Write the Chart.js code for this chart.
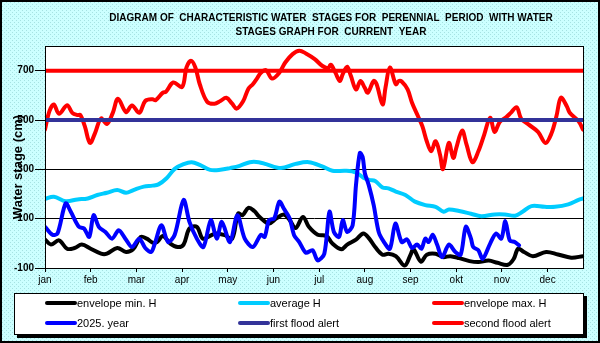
<!DOCTYPE html>
<html>
<head>
<meta charset="UTF-8">
<title>Water stages</title>
<script src="https://cdn.jsdelivr.net/npm/chart.js"></script>
<style>
    html, body { margin: 0; padding: 0; background: #ccffff; }
    #wrap { width: 600px; height: 343px; }
</style>
</head>
<body>
<div id="wrap"><canvas id="stagesChart" width="600" height="343"></canvas></div>

<script>
    // month labels sit every 31 days, like the original sheet
    var monthLabels = ['jan', 'feb', 'mar', 'apr', 'may', 'jun', 'jul', 'aug', 'sep', 'okt', 'nov', 'dec'];
    var monthDays = [0, 31, 62, 93, 124, 155, 186, 217, 248, 279, 310, 341];
    var yTicks = [-100, 100, 300, 500, 700];

    var minDays = [0, 4, 9.5, 15, 20, 25, 31, 38, 42, 49, 55, 60, 65, 69, 73, 76, 80, 85, 90, 94, 98, 103, 107, 112, 116, 122, 127, 131, 134, 138, 142, 145, 148, 152, 157, 162, 166, 170, 175, 179, 185, 191, 195, 201, 205, 211, 216, 220, 224, 229, 233, 238, 244, 248, 250, 255, 259, 265, 270, 275, 281, 288, 294, 301, 307, 314, 318, 321, 325, 331, 340, 348, 357, 365];
    var minVals = [16, -5, 12, -22, -19, -5, -22, -42, -42, -19, -35, -22, 26, 19, 3, 5, 30, -1, -15, -5, 60, 67, 19, 30, 40, 33, 19, 121, 114, 144, 131, 110, 94, 80, 101, 117, 94, 62, 107, 67, 35, 30, -1, -24, -5, 15, 40, 19, -15, -46, -42, -52, -90, -46, -24, -74, -46, -42, -56, -52, -60, -72, -76, -70, -79, -87, -63, -22, -35, -52, -35, -45, -58, -52];

    var avgDays = [0, 6, 14, 22, 29, 35.5, 42, 49, 55, 60, 67, 73, 77, 82.5, 88, 94, 99.5, 105, 112, 119, 125.5, 132, 139, 145, 150, 160, 170, 179, 188, 195, 204, 211, 216, 220, 224, 229, 233, 238, 244.5, 251, 258, 265, 270.5, 274, 281, 289, 296, 305, 312, 319, 324, 330, 339, 346, 355, 362, 365];
    var avgVals = [180, 189, 171, 178, 182, 196, 205, 216, 205, 216, 230, 234, 239, 264, 302, 321, 329, 318, 298, 298, 305, 314, 329, 329, 321, 305, 322, 329, 312, 294, 294, 287, 266, 257, 253, 226, 223, 210, 196, 169, 155, 148, 128, 137, 131, 120, 110, 117, 117, 112, 128, 151, 148, 148, 158, 176, 182];

    var maxDays = [0, 3, 6, 9.5, 15, 18.5, 22, 24, 27, 30.5, 34, 38, 42, 46, 49.5, 55, 59, 64, 68, 73, 75, 80, 82, 87, 93, 96, 99, 102, 105, 110, 115, 119, 123, 127, 130, 134.5, 138, 141, 144, 146.5, 150, 154, 159, 163, 168, 172.5, 177, 183, 188, 192, 194, 197, 200, 202, 205, 207.5, 211, 214, 217, 219, 223, 225, 229, 231, 234, 238, 240, 242, 246, 249, 253, 256, 259, 262, 265, 268, 270, 274, 277, 279, 283, 286, 290, 294, 298, 302, 305, 308.5, 313, 316, 320, 323, 328, 334.5, 339.5, 343.5, 347, 350, 354, 356, 362, 365];
    var maxVals = [461, 536, 563, 525, 560, 529, 520, 520, 475, 407, 448, 506, 484, 529, 586, 532, 559, 529, 577, 584, 580, 611, 614, 652, 634, 713, 740, 713, 645, 574, 566, 577, 590, 566, 546, 577, 627, 645, 670, 692, 702, 668, 692, 733, 767, 781, 770, 747, 720, 710, 724, 692, 658, 686, 716, 679, 624, 658, 630, 611, 658, 645, 563, 631, 713, 645, 658, 656, 624, 570, 516, 475, 414, 373, 414, 359, 301, 407, 346, 386, 457, 400, 329, 373, 441, 509, 452, 492, 512, 529, 552, 506, 482, 452, 407, 444, 516, 590, 556, 529, 495, 461];

    var yearDays = [0, 5, 8.5, 14, 17.5, 23, 26.5, 30, 33, 36.5, 41, 45.5, 50, 54.5, 59, 64, 68, 72, 74.5, 79, 83.5, 88, 94, 98, 103, 107.5, 112.5, 116.5, 120, 125.5, 130.5, 135.5, 141, 146.5, 149, 152, 155.5, 159, 162, 166, 169, 172.5, 177, 181.5, 185, 189.5, 193, 196, 199.5, 202, 205, 208.7, 211, 213.6, 215.5, 217, 219.6, 223, 226.4, 230, 234, 237.7, 242, 245.6, 249, 252.4, 255.4, 258, 260.3, 263, 266, 269.4, 274, 278.4, 282, 285.5, 289, 290.5, 294, 297, 302, 306, 309.6, 312.3, 315.3, 318.7, 321.6];
    var yearVals = [67, 35, 40, 162, 128, 67, 60, 26, 114, 67, 46, 19, 53, 19, -15, 19, -19, -35, -1, 73, 5, 35, 176, 87, 19, -15, 94, 19, 87, 5, 114, 19, -15, 35, 26, 94, 101, 169, 141, 101, 33, 5, -38, -28, -69, -42, 128, 46, 26, 94, 46, 73, 237, 366, 350, 284, 237, 155, 46, 5, -22, 80, 5, 16, -19, -5, -22, 19, 5, 35, -5, -56, -5, -35, -46, 67, 19, -15, -28, -63, -1, 40, 19, 90, 12, 5, -8];

    var alertDays = [0, 365];
    var firstAlert = [500, 500];
    var secondAlert = [700, 700];

    var fontFamily = "'Liberation Sans', Arial, sans-serif";

    function toPoints(days, vals) {
        return days.map(function (d, i) { return { x: d, y: vals[i] }; });
    }

    // light cyan dotted fill of the sheet
    var pc = document.createElement('canvas');
    pc.width = 4; pc.height = 4;
    var pctx = pc.getContext('2d');
    pctx.fillStyle = '#ccffff';
    pctx.fillRect(0, 0, 4, 4);
    pctx.fillStyle = '#a6e2e2';
    pctx.fillRect(0, 0, 1, 1);
    pctx.fillRect(2, 2, 1, 1);

    var frame = {
        id: 'frame',
        beforeDraw: function (chart) {
            var c = chart.ctx, a = chart.chartArea;
            c.save();
            c.fillStyle = c.createPattern(pc, 'repeat');
            c.fillRect(0, 0, chart.width, chart.height);
            c.fillStyle = '#ffffff';
            c.fillRect(a.left, a.top, a.right - a.left, a.bottom - a.top);
            c.restore();
        },
        afterDraw: function (chart) {
            var c = chart.ctx, a = chart.chartArea;
            c.save();
            c.strokeStyle = '#000';
            c.lineWidth = 1;
            c.strokeRect(a.left + 0.5, a.top + 0.5, a.right - a.left, a.bottom - a.top);
            c.lineWidth = 2;
            c.strokeRect(1, 1, chart.width - 2, chart.height - 2);

            // title
            c.fillStyle = '#000';
            c.textAlign = 'center';
            c.textBaseline = 'middle';
            c.font = 'bold 10px ' + fontFamily;
            c.fillText('DIAGRAM OF  CHARACTERISTIC WATER  STAGES FOR  PERENNIAL  PERIOD  WITH WATER', 331, 18);
            c.fillText('STAGES GRAPH FOR  CURRENT  YEAR', 331, 32);

            // y axis title
            c.save();
            c.translate(18, 167);
            c.rotate(-Math.PI / 2);
            c.font = 'bold 13px ' + fontFamily;
            c.fillText('Water stage (cm)', 0, 0);
            c.restore();

            // legend box with shadow
            c.fillStyle = '#000';
            c.fillRect(17, 296, 570, 42);
            c.fillStyle = '#fff';
            c.fillRect(14, 293, 570, 42);
            c.lineWidth = 1;
            c.strokeRect(14.5, 293.5, 569, 41);

            var items = chart.data.datasets;
            var cols = [47, 240, 434];
            var rows = [303, 323];
            c.font = '11px ' + fontFamily;
            c.textAlign = 'left';
            c.lineCap = 'round';
            items.forEach(function (ds, i) {
                var x = cols[i % 3], y = rows[Math.floor(i / 3)];
                c.strokeStyle = ds.borderColor;
                c.lineWidth = 4;
                c.beginPath();
                c.moveTo(x, y);
                c.lineTo(x + 28, y);
                c.stroke();
                c.fillStyle = '#000';
                c.fillText(ds.label, x + 30, y + 1);
            });
            c.restore();
        }
    };

    function line(label, days, vals, color, order, tension) {
        return {
            label: label,
            data: toPoints(days, vals),
            borderColor: color,
            borderWidth: 4,
            pointRadius: 0,
            fill: false,
            tension: tension,
            borderJoinStyle: 'round',
            borderCapStyle: 'round',
            order: order
        };
    }

    var ctx = document.getElementById('stagesChart').getContext('2d');
    var stagesChart = new Chart(ctx, {
        type: 'line',
        data: {
            datasets: [
                line('envelope min. H', minDays, minVals, '#000000', 6, 0.35),
                line('average H', avgDays, avgVals, '#00ccff', 5, 0.35),
                line('envelope max. H', maxDays, maxVals, '#ff0000', 4, 0.35),
                line('2025. year', yearDays, yearVals, '#0000ff', 3, 0.3),
                line('first flood alert', alertDays, firstAlert, '#333399', 2, 0),
                line('second flood alert', alertDays, secondAlert, '#ff0000', 1, 0)
            ]
        },
        options: {
            responsive: false,
            animation: false,
            layout: { padding: { top: 46, right: 17, left: 0, bottom: 0 } },
            plugins: {
                legend: { display: false },
                title: { display: false },
                tooltip: { enabled: false }
            },
            scales: {
                x: {
                    type: 'linear',
                    min: 0,
                    max: 365,
                    afterBuildTicks: function (s) { s.ticks = monthDays.map(function (v) { return { value: v }; }); },
                    afterFit: function (s) { s.height = 75; },
                    grid: { drawOnChartArea: false, color: '#000', tickLength: 4 },
                    border: { color: '#000' },
                    ticks: {
                        callback: function (v, i) { return monthLabels[i]; },
                        color: '#000',
                        font: { family: fontFamily, size: 10 },
                        padding: 2,
                        maxRotation: 0,
                        autoSkip: false
                    }
                },
                y: {
                    min: -100,
                    max: 800,
                    afterBuildTicks: function (s) { s.ticks = yTicks.map(function (v) { return { value: v }; }); },
                    afterFit: function (s) { s.width = 45; },
                    grid: { color: '#000', tickLength: 10 },
                    border: { color: '#000' },
                    ticks: {
                        color: '#000',
                        font: { family: fontFamily, size: 10, weight: 'bold' },
                        padding: 1
                    }
                }
            }
        },
        plugins: [frame]
    });
</script>
</body>
</html>
